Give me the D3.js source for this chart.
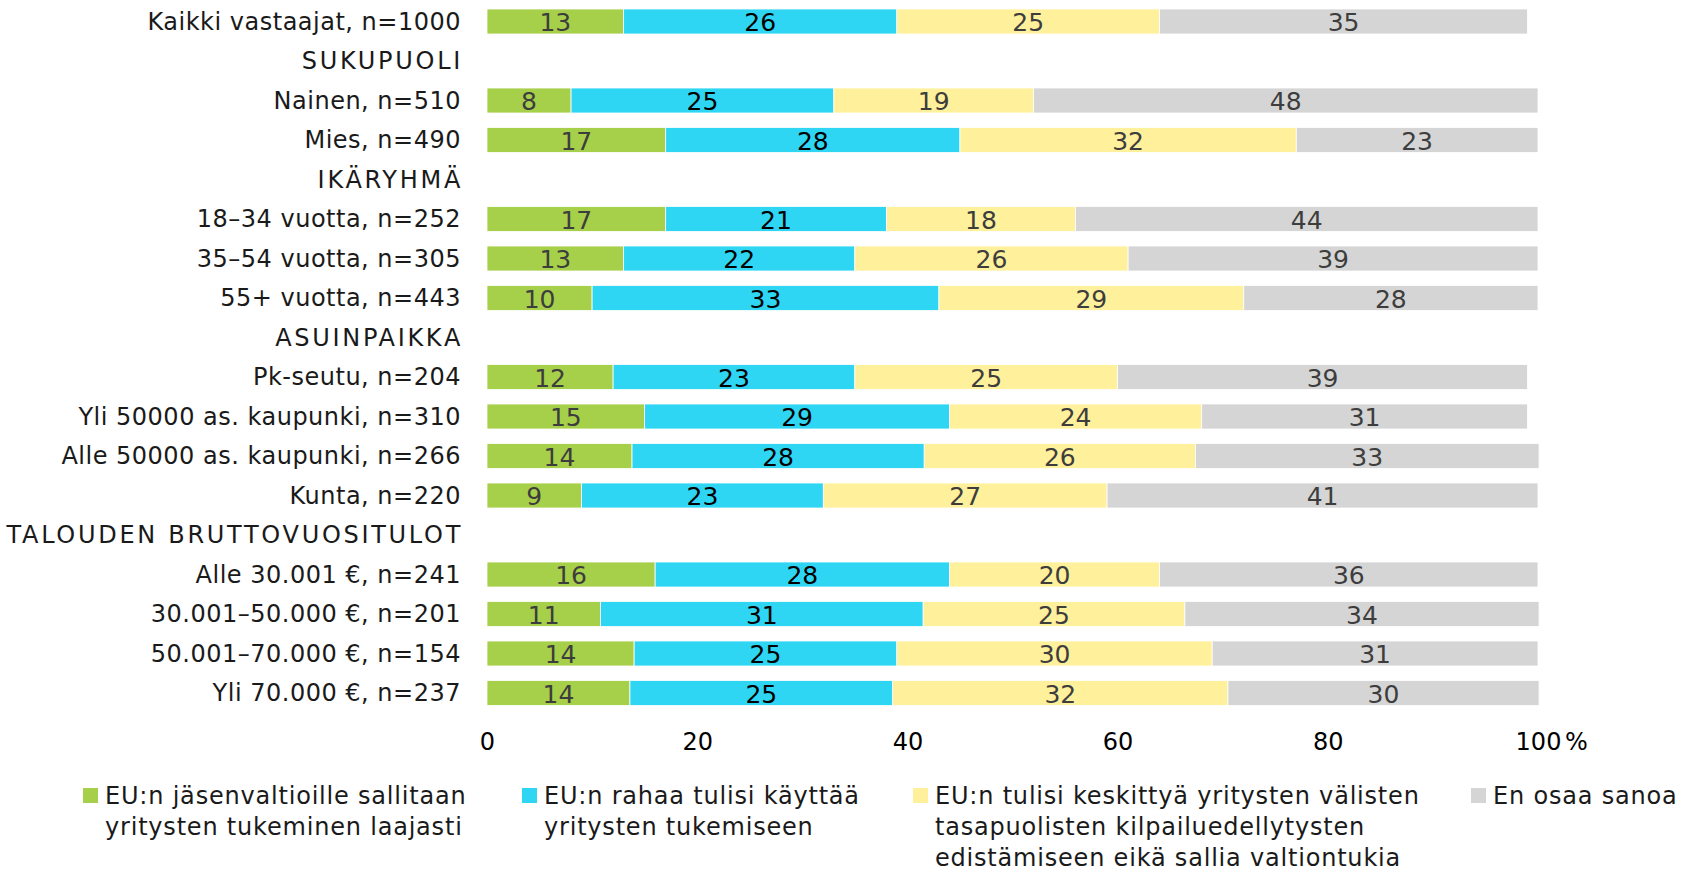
<!DOCTYPE html>
<html>
<head>
<meta charset="utf-8">
<script src="https://cdn.jsdelivr.net/npm/d3@7"></script>
<style>
  body { margin: 0; background: #fff; }
  svg { display: block; font-family: "DejaVu Sans", sans-serif; }
</style>
</head>
<body>
<svg id="chart" width="1690" height="872"></svg>
<script>
const categories = [
  "Kaikki vastaajat, n=1000", "SUKUPUOLI", "Nainen, n=510", "Mies, n=490",
  "IKÄRYHMÄ", "18–34 vuotta, n=252", "35–54 vuotta, n=305", "55+ vuotta, n=443",
  "ASUINPAIKKA", "Pk-seutu, n=204", "Yli 50000 as. kaupunki, n=310",
  "Alle 50000 as. kaupunki, n=266", "Kunta, n=220", "TALOUDEN BRUTTOVUOSITULOT",
  "Alle 30.001 €, n=241", "30.001–50.000 €, n=201", "50.001–70.000 €, n=154",
  "Yli 70.000 €, n=237"
];
const legendLines = [
  ["EU:n jäsenvaltioille sallitaan", "yritysten tukeminen laajasti"],
  ["EU:n rahaa tulisi käyttää", "yritysten tukemiseen"],
  ["EU:n tulisi keskittyä yritysten välisten", "tasapuolisten kilpailuedellytysten", "edistämiseen eikä sallia valtiontukia"],
  ["En osaa sanoa"]
];
const green  = [13, null, 8, 17, null, 17, 13, 10, null, 12, 15, 13.8, 9, null, 16, 10.8, 14, 13.6];
const blue   = [26, null, 25, 28, null, 21, 22, 33, null, 23, 29, 27.8, 23, null, 28, 30.7, 25, 25.0];
const yellow = [25, null, 19, 32, null, 18, 26, 29, null, 25, 24, 25.8, 27, null, 20, 24.9, 30, 31.9];
const gray   = [35, null, 48, 23, null, 44, 39, 28, null, 39, 31, 32.7, 41, null, 36, 33.7, 31, 29.6];
const tickValues = [0, 20, 40, 60, 80, 100];

const colors = ["#a7d04a", "#2ed6f3", "#fff09b", "#d5d5d5"];
const labelColors = ["#3d3d3d", "#000000", "#3d3d3d", "#3d3d3d"];
const series = [green, blue, yellow, gray];

const svg = d3.select("#chart");
const x = d3.scaleLinear().domain([0, 100]).range([487, 1538]);
const step = 39.5;
const y = d3.scaleBand().domain(categories)
  .range([1.75, 1.75 + step * categories.length])
  .paddingInner(0.367).paddingOuter(0.1835);

const rows = categories.map((c, i) => ({ cat: c, vals: series.map(s => s[i]) }));
const isHeader = (c, i) => green[i] === null;

// category labels
svg.append("g").selectAll("text").data(categories).join("text")
  .attr("x", (d, i) => isHeader(d, i) ? 463 : 461)
  .attr("y", d => y(d) + y.bandwidth() / 2)
  .attr("text-anchor", "end")
  .attr("dominant-baseline", "central")
  .attr("font-size", 24)
  .attr("letter-spacing", (d, i) => isHeader(d, i) ? 2.7 : 0.5)
  .attr("fill", "#1a1a1a")
  .text(d => d);

// stacked bars
const barG = svg.append("g");
rows.forEach(r => {
  if (r.vals[0] === null) return;
  let acc = 0;
  r.vals.forEach((v, k) => {
    const x0 = acc, x1 = acc + v;
    acc = x1;
    barG.append("rect")
      .attr("x", x(x0)).attr("y", y(r.cat))
      .attr("width", x(x1) - x(x0)).attr("height", y.bandwidth())
      .attr("fill", colors[k])
      .attr("stroke", "#ffffff").attr("stroke-width", 0.8);
    barG.append("text")
      .attr("x", (x(x0) + x(x1)) / 2)
      .attr("y", y(r.cat) + y.bandwidth() / 2 + 1)
      .attr("text-anchor", "middle")
      .attr("dominant-baseline", "central")
      .attr("font-size", 25)
      .attr("fill", labelColors[k])
      .text(Math.round(v));
  });
});

// x axis
const axis = d3.axisBottom(x).tickValues(tickValues).tickSize(0).tickPadding(0).tickFormat(d3.format("d"));
const axG = svg.append("g").attr("transform", "translate(0,733)").call(axis);
axG.select(".domain").remove();
axG.selectAll("text").attr("font-size", 24).attr("fill", "#000").attr("font-family", "DejaVu Sans, sans-serif").attr("dy", "0.71em");
svg.append("text").attr("x", 1565).attr("y", 733).attr("dy", "0.71em")
  .attr("font-size", 24).attr("fill", "#000").text("%");

// legend
const legendX = [83, 522, 913, 1471];
const lg = svg.append("g");
legendLines.forEach((lines, k) => {
  lg.append("rect").attr("x", legendX[k]).attr("y", 788).attr("width", 15).attr("height", 15).attr("fill", colors[k]);
  const t = lg.append("text").attr("x", legendX[k] + 22).attr("y", 796)
    .attr("font-size", 24).attr("letter-spacing", 0.8).attr("fill", "#1a1a1a").attr("dominant-baseline", "central");
  lines.forEach((ln, j) => {
    t.append("tspan").attr("x", legendX[k] + 22).attr("dy", j === 0 ? 0 : 31).text(ln);
  });
});
</script>
</body>
</html>
